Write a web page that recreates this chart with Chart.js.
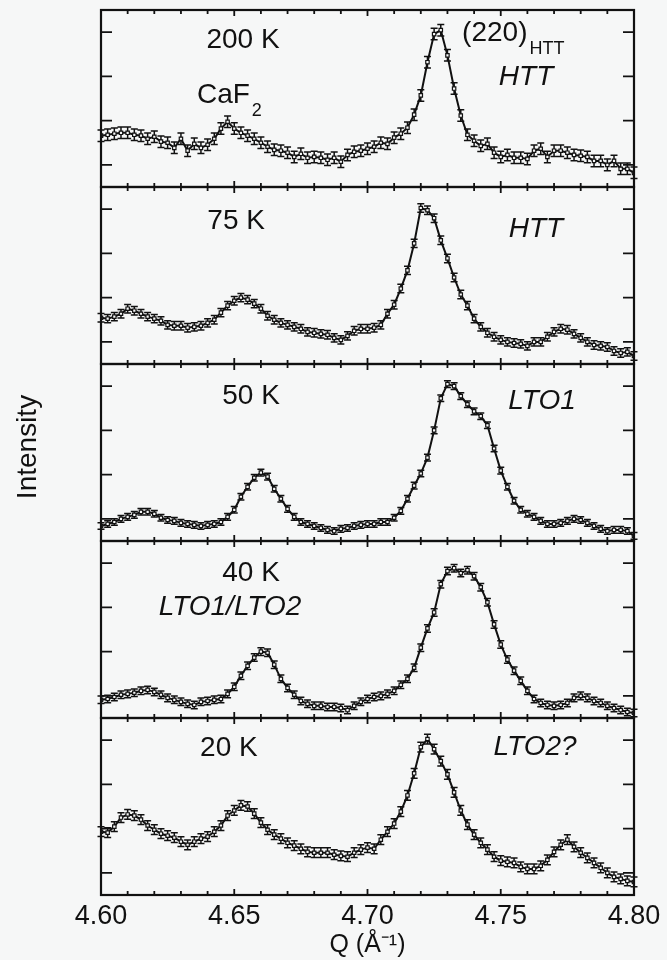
<!DOCTYPE html>
<html>
<head>
<meta charset="utf-8">
<script src="https://cdn.jsdelivr.net/npm/chart.js@4.4.1/dist/chart.umd.min.js"></script>
<style>
  body { margin: 0; background: #f6f7f7; }
</style>
</head>
<body>
<canvas id="myChart" width="667" height="960"></canvas>
<script>
// Q grid, one point every 0.0025 A^-1
const qValues = [4.6000, 4.6025, 4.6050, 4.6075, 4.6100, 4.6125, 4.6150, 4.6175, 4.6200, 4.6225,
  4.6250, 4.6275, 4.6300, 4.6325, 4.6350, 4.6375, 4.6400, 4.6425, 4.6450, 4.6475,
  4.6500, 4.6525, 4.6550, 4.6575, 4.6600, 4.6625, 4.6650, 4.6675, 4.6700, 4.6725,
  4.6750, 4.6775, 4.6800, 4.6825, 4.6850, 4.6875, 4.6900, 4.6925, 4.6950, 4.6975,
  4.7000, 4.7025, 4.7050, 4.7075, 4.7100, 4.7125, 4.7150, 4.7175, 4.7200, 4.7225,
  4.7250, 4.7275, 4.7300, 4.7325, 4.7350, 4.7375, 4.7400, 4.7425, 4.7450, 4.7475,
  4.7500, 4.7525, 4.7550, 4.7575, 4.7600, 4.7625, 4.7650, 4.7675, 4.7700, 4.7725,
  4.7750, 4.7775, 4.7800, 4.7825, 4.7850, 4.7875, 4.7900, 4.7925, 4.7950, 4.7975,
  4.8000];

// intensities (arb. units) for each temperature
const i200 = [2.32,2.36,2.41,2.45,2.45,2.36,2.32,2.18,2.27,2.05, 2.0,1.77,2.18,1.64,1.95,1.77,1.91,2.18,2.64,2.95,
  2.64,2.45,2.32,2.18,2.0,1.82,1.68,1.64,1.55,1.36, 1.5,1.32,1.36,1.32,1.23,1.32,1.14,1.45,1.59,1.64,
  1.73,1.82,2.0,1.95,2.23,2.41,2.68,3.27,4.14,5.64, 6.91,7.09,5.95,4.45,3.23,2.36,2.09,1.86,1.95,1.55,
  1.36,1.45,1.32,1.32,1.27,1.64,1.73,1.36,1.64,1.64, 1.55,1.45,1.41,1.36,1.18,1.18,1.0,1.18,0.82,0.82,
  0.64];
const i75 = [2.09,2.05,2.14,2.27,2.5,2.41,2.27,2.14,2.05,1.95, 1.77,1.73,1.73,1.64,1.68,1.73,1.86,2.0,2.32,2.64,
  2.86,3.0,2.91,2.73,2.5,2.18,2.0,1.86,1.77,1.68, 1.59,1.45,1.41,1.36,1.32,1.18,1.09,1.27,1.5,1.59,
  1.59,1.64,1.77,2.27,2.68,3.41,4.23,5.45,7.05,6.95, 6.59,5.59,4.77,3.91,3.14,2.64,2.05,1.68,1.41,1.23,
  1.09,1.0,0.95,0.91,0.82,1.0,1.0,1.23,1.45,1.59, 1.55,1.36,1.18,1.0,0.86,0.82,0.77,0.59,0.5,0.55,
  0.36];
const i50 = [0.68,0.77,0.86,1.0,1.09,1.18,1.32,1.32,1.23,1.05, 0.95,0.91,0.82,0.77,0.73,0.68,0.73,0.77,0.86,1.09,
  1.41,2.0,2.45,2.86,3.09,2.91,2.36,1.91,1.45,1.09, 0.86,0.77,0.68,0.59,0.5,0.45,0.55,0.59,0.68,0.73,
  0.77,0.77,0.86,0.86,1.05,1.36,1.91,2.5,3.05,3.77, 5.0,6.45,7.09,7.0,6.55,6.18,5.86,5.64,5.23,4.18,
  3.18,2.45,1.82,1.41,1.23,1.09,0.91,0.77,0.77,0.82, 0.91,1.0,0.95,0.82,0.68,0.55,0.45,0.5,0.5,0.45,
  0.23];
const i40 = [0.82,0.86,0.95,1.05,1.09,1.14,1.23,1.27,1.18,1.05, 0.91,0.82,0.73,0.64,0.59,0.73,0.77,0.82,0.86,1.09,
  1.41,1.91,2.36,2.73,3.0,2.95,2.41,1.77,1.36,1.05, 0.77,0.64,0.55,0.55,0.5,0.5,0.45,0.36,0.55,0.73,
  0.86,0.95,1.0,1.09,1.23,1.5,1.77,2.27,3.18,4.05, 4.77,6.05,6.64,6.77,6.55,6.68,6.41,5.91,5.23,4.23,
  3.32,2.64,2.14,1.68,1.23,0.86,0.68,0.59,0.55,0.59, 0.68,0.91,1.0,0.91,0.77,0.68,0.55,0.45,0.36,0.27,
  0.23];
const i20 = [2.86,2.82,3.09,3.5,3.64,3.59,3.41,3.14,2.95,2.77, 2.68,2.59,2.41,2.27,2.41,2.55,2.64,2.86,3.14,3.59,
  3.82,4.05,4.0,3.68,3.27,2.95,2.73,2.55,2.36,2.23, 2.09,1.95,1.91,1.91,1.91,1.82,1.77,1.73,1.91,2.05,
  2.14,2.09,2.5,2.86,3.23,3.77,4.5,5.5,6.68,7.05, 6.59,6.05,5.45,4.64,3.82,3.18,2.73,2.36,2.05,1.73,
  1.55,1.5,1.45,1.27,1.18,1.18,1.32,1.59,1.95,2.27, 2.5,2.18,1.91,1.68,1.45,1.23,1.0,0.82,0.73,0.64,
  0.59];

// error bar half-heights per panel
const errors = [0.26, 0.19, 0.15, 0.17, 0.22];
const temps = ['200 K', '75 K', '50 K', '40 K', '20 K'];
const series = [i200, i75, i50, i40, i20];
const axisIds = ['y200', 'y75', 'y50', 'y40', 'y20'];
const yTickValues = [1, 3, 5, 7];

const FONT = "'Liberation Sans', Arial, sans-serif";
const INK = '#111';

// text inside the panels
const panelLabels = [
  {axis: 'y200', q: 4.6533, v: 6.65, text: '200 K'},
  {axis: 'y200', q: 4.6360, v: 4.16, text: 'CaF', sub: '2', align: 'left'},
  {axis: 'y200', q: 4.7355, v: 6.97, text: '(220)', sub: 'HTT', align: 'left'},
  {axis: 'y200', q: 4.7595, v: 4.98, text: 'HTT', italic: true},
  {axis: 'y75', q: 4.6507, v: 6.43, text: '75 K'},
  {axis: 'y75', q: 4.7632, v: 6.11, text: 'HTT', italic: true},
  {axis: 'y50', q: 4.6563, v: 6.52, text: '50 K'},
  {axis: 'y50', q: 4.7655, v: 6.33, text: 'LTO1', italic: true},
  {axis: 'y40', q: 4.6563, v: 6.56, text: '40 K'},
  {axis: 'y40', q: 4.6484, v: 5.02, text: 'LTO1/LTO2', italic: true},
  {axis: 'y20', q: 4.6480, v: 6.65, text: '20 K'},
  {axis: 'y20', q: 4.7629, v: 6.70, text: 'LTO2?', italic: true}
];

const isMajor = v => Math.round(v * 100) % 5 === 0;

// vertical error bars with caps, under the line and markers
const errorBars = {
  id: 'errorBars',
  beforeDatasetDraw(chart, args) {
    const meta = args.meta;
    const ds = chart.data.datasets[args.index];
    const ys = chart.scales[meta.yAxisID];
    const ctx = chart.ctx;
    ctx.save();
    ctx.strokeStyle = INK;
    ctx.lineWidth = 1.5;
    ctx.beginPath();
    meta.data.forEach((pt, j) => {
      const v = ds.data[j].y;
      const top = ys.getPixelForValue(v + ds.err);
      const bot = ys.getPixelForValue(v - ds.err);
      ctx.moveTo(pt.x, top); ctx.lineTo(pt.x, bot);
      ctx.moveTo(pt.x - 3.5, top); ctx.lineTo(pt.x + 3.5, top);
      ctx.moveTo(pt.x - 3.5, bot); ctx.lineTo(pt.x + 3.5, bot);
    });
    ctx.stroke();
    ctx.restore();
  }
};

// panel boxes, inward ticks, labels
const panelFrames = {
  id: 'panelFrames',
  afterDraw(chart) {
    const {ctx, chartArea} = chart;
    const xs = chart.scales.x;
    ctx.save();
    ctx.strokeStyle = INK;
    axisIds.forEach(id => {
      const s = chart.scales[id];
      ctx.lineWidth = 2.2;
      ctx.strokeRect(chartArea.left, s.top, chartArea.right - chartArea.left, s.bottom - s.top);
      ctx.lineWidth = 1.8;
      ctx.beginPath();
      yTickValues.forEach(v => {
        const py = s.getPixelForValue(v);
        ctx.moveTo(chartArea.left, py); ctx.lineTo(chartArea.left + 11, py);
        ctx.moveTo(chartArea.right, py); ctx.lineTo(chartArea.right - 11, py);
      });
      xs.ticks.forEach(t => {
        const px = xs.getPixelForValue(t.value);
        const len = isMajor(t.value) ? 6 : 4;
        ctx.moveTo(px, s.top); ctx.lineTo(px, s.top + len);
        ctx.moveTo(px, s.bottom); ctx.lineTo(px, s.bottom - len);
      });
      ctx.stroke();
    });

    ctx.fillStyle = INK;
    ctx.textBaseline = 'middle';
    panelLabels.forEach(l => {
      const px = xs.getPixelForValue(l.q);
      const py = chart.scales[l.axis].getPixelForValue(l.v);
      ctx.font = (l.italic ? 'italic ' : '') + '28px ' + FONT;
      ctx.textAlign = l.align || 'center';
      ctx.fillText(l.text, px, py);
      if (l.sub) {
        const w = ctx.measureText(l.text).width;
        ctx.font = '18px ' + FONT;
        ctx.textAlign = 'left';
        ctx.fillText(l.sub, px + w + 2, py + 16);
      }
    });

    // y axis title
    ctx.font = '28px ' + FONT;
    ctx.textAlign = 'center';
    ctx.translate(28, 447);
    ctx.rotate(-Math.PI / 2);
    ctx.fillText('Intensity', 0, 0);
    ctx.restore();
  }
};

const datasets = series.map((vals, k) => ({
  label: temps[k],
  data: vals.map((v, j) => ({x: qValues[j], y: v})),
  yAxisID: axisIds[k],
  err: errors[k],
  borderColor: INK,
  borderWidth: 2,
  pointStyle: 'rect',
  pointRadius: 2.4,
  pointBackgroundColor: '#f6f7f7',
  pointBorderColor: INK,
  pointBorderWidth: 1.2,
  tension: 0
}));

const scales = {
  x: {
    type: 'linear', position: 'bottom', min: 4.6, max: 4.8,
    afterFit(s) { s.height = 65; },
    grid: {display: false, drawTicks: false},
    border: {display: false},
    ticks: {
      stepSize: 0.01, autoSkip: false, maxRotation: 0, padding: 5,
      color: INK, font: {size: 27, family: FONT},
      callback: v => isMajor(v) ? v.toFixed(2) : ''
    },
    title: {display: true, text: 'Q (Å⁻¹)', color: INK, font: {size: 25, family: FONT}, padding: {top: 0, bottom: 0}}
  }
};
axisIds.forEach((id, k) => {
  scales[id] = {
    type: 'linear', position: 'left', stack: 'panels', stackWeight: 1,
    weight: axisIds.length - k, min: 0, max: 8, display: false
  };
});

const myChart = new Chart(document.getElementById('myChart'), {
  type: 'line',
  data: {datasets},
  options: {
    responsive: false,
    animation: false,
    layout: {padding: {left: 101, right: 33, top: 10, bottom: 0}},
    plugins: {legend: {display: false}, tooltip: {enabled: false}},
    scales
  },
  plugins: [errorBars, panelFrames]
});
</script>
</body>
</html>
